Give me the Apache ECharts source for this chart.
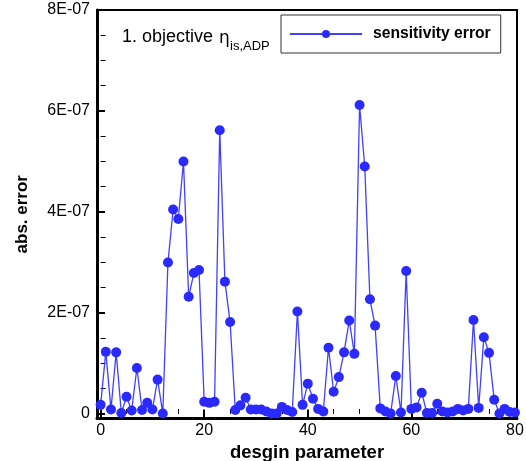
<!DOCTYPE html>
<html>
<head>
<meta charset="utf-8">
<script src="https://cdn.jsdelivr.net/npm/echarts@6/dist/echarts.min.js"></script>
<style>html,body{margin:0;padding:0;background:#fff}#c{width:526px;height:461px}</style>
</head>
<body>
<div id="c"></div>
<script>
// design parameter index
const designParams = Array.from({length: 81}, (_, i) => i);
// absolute sensitivity error values
const errorValues = [
  0.18e-7, 1.23e-7, 0.09e-7, 1.22e-7, 0.02e-7, 0.34e-7, 0.07e-7, 0.91e-7, 0.08e-7, 0.22e-7,
  0.09e-7, 0.68e-7, 0.01e-7, 3.00e-7, 4.05e-7, 3.86e-7, 5.00e-7, 2.32e-7, 2.79e-7, 2.85e-7,
  0.24e-7, 0.22e-7, 0.24e-7, 5.62e-7, 2.62e-7, 1.82e-7, 0.08e-7, 0.17e-7, 0.32e-7, 0.09e-7,
  0.09e-7, 0.09e-7, 0.05e-7, 0.01e-7, 0.01e-7, 0.14e-7, 0.08e-7, 0.04e-7, 2.03e-7, 0.18e-7,
  0.60e-7, 0.30e-7, 0.10e-7, 0.05e-7, 1.31e-7, 0.44e-7, 0.73e-7, 1.22e-7, 1.85e-7, 1.19e-7,
  6.12e-7, 4.90e-7, 2.27e-7, 1.75e-7, 0.11e-7, 0.05e-7, 0.01e-7, 0.75e-7, 0.03e-7, 2.83e-7,
  0.10e-7, 0.13e-7, 0.42e-7, 0.02e-7, 0.02e-7, 0.20e-7, 0.05e-7, 0.03e-7, 0.05e-7, 0.10e-7,
  0.07e-7, 0.10e-7, 1.86e-7, 0.12e-7, 1.52e-7, 1.21e-7, 0.28e-7, 0.01e-7, 0.10e-7, 0.04e-7,
  0.03e-7
];
const xMajorTicks = [0, 20, 40, 60, 80];
const xMinorTicks = [5, 10, 15, 25, 30, 35, 45, 50, 55, 65, 70, 75];
const yMajorTicks = [0, 2e-7, 4e-7, 6e-7, 8e-7];
const yTickLabels = ['0', '2E-07', '4E-07', '6E-07', '8E-07'];
const yMinorTicks = [0.5e-7, 1e-7, 1.5e-7, 2.5e-7, 3e-7, 3.5e-7, 4.5e-7, 5e-7, 5.5e-7, 6.5e-7, 7e-7, 7.5e-7];
const seriesName = 'sensitivity error';

const FONT = 'Liberation Sans, Arial, Helvetica, sans-serif';
const chart = echarts.init(document.getElementById('c'), null, {renderer: 'canvas'});

function yLabel(v) {
  for (let i = 0; i < yMajorTicks.length; i++) {
    if (Math.abs(v - yMajorTicks[i]) < 1e-12) return yTickLabels[i];
  }
  return '';
}

const xRange = {min: -0.7, max: 80.4};
const yRange = {min: -0.09e-7, max: 8e-7};

chart.setOption({
  animation: false,
  grid: {left: 97, right: 9, top: 10, bottom: 42.5, containLabel: false, outerBoundsMode: 'none',
         show: true, borderColor: '#000', borderWidth: 2, backgroundColor: 'transparent'},
  xAxis: [
    {
      type: 'value', ...xRange, position: 'bottom',
      name: 'desgin parameter', nameLocation: 'middle', nameGap: 20,
      nameTextStyle: {fontFamily: FONT, fontSize: 18.5, fontWeight: 'bold', color: '#000'},
      axisLine: {show: true, onZero: false, lineStyle: {color: '#000', width: 3}},
      axisTick: {show: true, inside: true, length: 9, lineStyle: {color: '#000', width: 2}, customValues: xMajorTicks},
      axisLabel: {show: true, customValues: xMajorTicks, fontFamily: FONT, fontSize: 16, color: '#000', margin: 4},
      splitLine: {show: false}
    },
    {
      type: 'value', ...xRange, position: 'bottom', offset: 0,
      axisLine: {show: false},
      axisTick: {show: true, inside: true, length: 5, lineStyle: {color: '#000', width: 1}, customValues: xMinorTicks},
      axisLabel: {show: false},
      splitLine: {show: false}
    }
  ],
  yAxis: [
    {
      type: 'value', ...yRange, position: 'left',
      name: 'abs. error', nameLocation: 'middle', nameGap: 66, nameRotate: 90,
      nameTextStyle: {fontFamily: FONT, fontSize: 17, fontWeight: 'bold', color: '#000'},
      axisLine: {show: true, onZero: false, lineStyle: {color: '#000', width: 3}},
      axisTick: {show: true, inside: true, length: 8, lineStyle: {color: '#000', width: 2}, customValues: yMajorTicks},
      axisLabel: {show: true, customValues: yMajorTicks, formatter: yLabel, fontFamily: FONT, fontSize: 16, color: '#000', margin: 7},
      splitLine: {show: false}
    },
    {
      type: 'value', ...yRange, position: 'left', offset: 0,
      axisLine: {show: false},
      axisTick: {show: true, inside: true, length: 5, lineStyle: {color: '#000', width: 1}, customValues: yMinorTicks},
      axisLabel: {show: false},
      splitLine: {show: false}
    }
  ],
  legend: {
    show: true,
    left: 281, top: 15,
    padding: [11, 10, 11, 8],
    borderColor: '#333', borderWidth: 1,
    itemWidth: 72, itemHeight: 10, itemGap: 0,
    textStyle: {fontFamily: FONT, fontSize: 15.7, fontWeight: 'bold', color: '#000', padding: [0, 0, 0, 6]},
    data: [seriesName]
  },
  graphic: [
    {type: 'text', left: 122, top: 28, style: {text: '1. objective', fontFamily: FONT, fontSize: 18, fill: '#000'}},
    {type: 'text', left: 219, top: 30, style: {text: 'η', fontFamily: 'DejaVu Sans', fontSize: 17, fill: '#000'}},
    {type: 'text', left: 230, top: 40, style: {text: 'is,ADP', fontFamily: FONT, fontSize: 13, fill: '#000'}}
  ],
  series: [{
    name: seriesName,
    type: 'line',
    xAxisIndex: 0, yAxisIndex: 0,
    data: designParams.map((x, i) => [x, errorValues[i]]),
    symbol: 'circle', symbolSize: 10,
    lineStyle: {color: '#4040ff', width: 1.3},
    itemStyle: {color: '#2a2aff', borderWidth: 0},
    clip: false
  }]
});
</script>
</body>
</html>
